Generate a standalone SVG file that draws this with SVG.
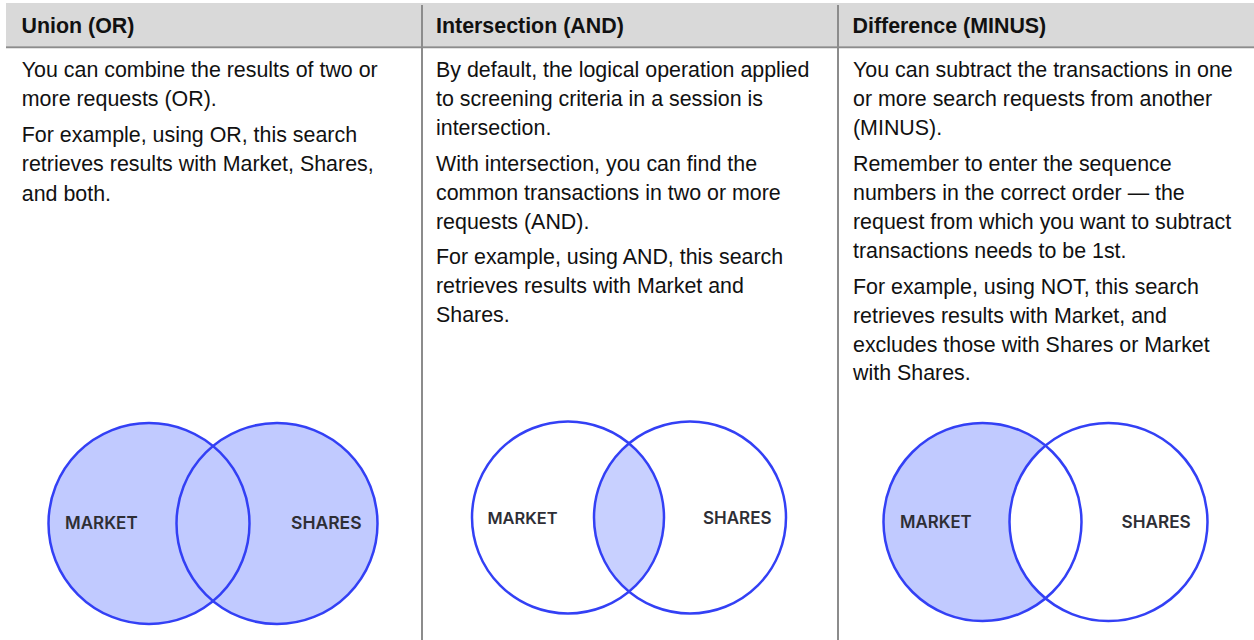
<svg xmlns="http://www.w3.org/2000/svg" width="1254" height="640" viewBox="0 0 1254 640">
<style>
.h{font:bold 21.4px "Liberation Sans",Arial,sans-serif;fill:#111}
.t{font:21.4px "Liberation Sans",Arial,sans-serif;fill:#111}
.l{font-family:"Inter","Liberation Sans",sans-serif;font-weight:600;fill:#2e2e35}
.c{fill:none;stroke:#3340f5;stroke-width:2.5}
.f{fill:#c1caff}
.f2{fill:#c8d0ff}
.r{stroke:#8c8c8c;stroke-width:2;fill:none}
</style>
<rect width="1254" height="640" fill="#fff"/>
<g id="table">
<rect x="6" y="3" width="1248" height="43" fill="#d9d9d9"/>
<path class="r" d="M6 47.300H1254M422 5V640M838 5V640"/>
</g>
<g id="col-union">
<text class="h" x="21.500" y="33">Union (OR)</text>
<text class="t" x="21.800" y="76.500">You can combine the results of two or</text>
<text class="t" x="21.800" y="106">more requests (OR).</text>
<text class="t" x="21.800" y="142">For example, using OR, this search</text>
<text class="t" x="21.800" y="171">retrieves results with Market, Shares,</text>
<text class="t" x="21.800" y="200.500">and both.</text>
</g>
<g id="col-intersection">
<text class="h" x="436" y="33">Intersection (AND)</text>
<text class="t" x="436" y="77">By default, the logical operation applied</text>
<text class="t" x="436" y="106">to screening criteria in a session is</text>
<text class="t" x="436" y="135">intersection.</text>
<text class="t" x="436" y="171">With intersection, you can find the</text>
<text class="t" x="436" y="200">common transactions in two or more</text>
<text class="t" x="436" y="228.500">requests (AND).</text>
<text class="t" x="436" y="264">For example, using AND, this search</text>
<text class="t" x="436" y="293">retrieves results with Market and</text>
<text class="t" x="436" y="322">Shares.</text>
</g>
<g id="col-difference">
<text class="h" x="852.500" y="33">Difference (MINUS)</text>
<text class="t" x="853" y="77">You can subtract the transactions in one</text>
<text class="t" x="853" y="106">or more search requests from another</text>
<text class="t" x="853" y="135">(MINUS).</text>
<text class="t" x="853" y="171">Remember to enter the sequence</text>
<text class="t" x="853" y="200">numbers in the correct order — the</text>
<text class="t" x="853" y="229">request from which you want to subtract</text>
<text class="t" x="853" y="258">transactions needs to be 1st.</text>
<text class="t" x="853" y="293.500">For example, using NOT, this search</text>
<text class="t" x="853" y="322.500">retrieves results with Market, and</text>
<text class="t" x="853" y="351.500">excludes those with Shares or Market</text>
<text class="t" x="853" y="380">with Shares.</text>
</g>
<g id="venn-union">
<circle class="f" cx="149" cy="523.500" r="100.500"/><circle class="f" cx="277" cy="523.500" r="100.500"/>
<circle class="c" cx="149" cy="523.500" r="100.500"/><circle class="c" cx="277" cy="523.500" r="100.500"/>
<text class="l" x="65" y="529" font-size="17">MARKET</text><text class="l" x="291" y="529" font-size="17.500">SHARES</text>
</g>
<g id="venn-intersection">
<path class="f2" d="M629 443A96.300 96.300 0 0 1 629 592A96.300 96.300 0 0 1 629 443Z"/>
<circle class="c" cx="568" cy="517.500" r="96"/><circle class="c" cx="690" cy="517.500" r="96"/>
<text class="l" x="487.500" y="524" font-size="16.400">MARKET</text><text class="l" x="703" y="524" font-size="17">SHARES</text>
</g>
<g id="venn-difference">
<path class="f" d="M1045.500 445.600A99 99 0 1 0 1045.500 598.400A99 99 0 0 1 1045.500 445.600Z"/>
<circle class="c" cx="982.500" cy="522" r="99"/><circle class="c" cx="1108.500" cy="522" r="99"/>
<text class="l" x="900" y="528" font-size="16.800">MARKET</text><text class="l" x="1121.500" y="528" font-size="17.200">SHARES</text>
</g>
</svg>
